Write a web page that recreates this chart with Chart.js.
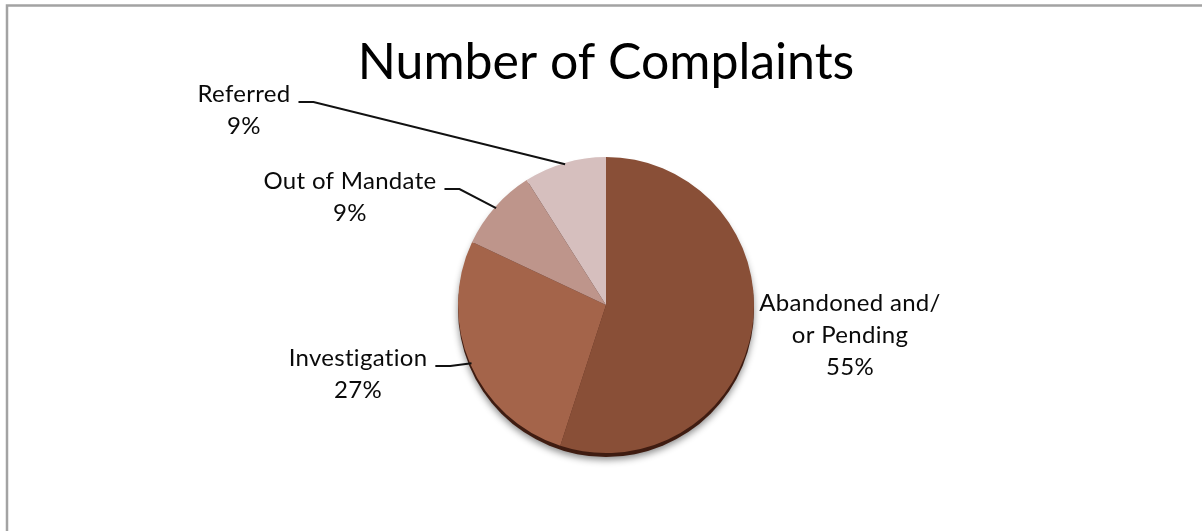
<!DOCTYPE html>
<html>
<head>
<meta charset="utf-8">
<script src="https://cdn.jsdelivr.net/npm/chart.js@4.4.0/dist/chart.umd.min.js"></script>
<style>
  html, body { margin: 0; padding: 0; background: #fff; overflow: hidden; }
  #wrap { width: 1202px; height: 531px; }
</style>
</head>
<body>
<div id="wrap"><canvas id="complaintsChart" width="1202" height="531"></canvas></div>
<script>
// chart data
var categories = [['Abandoned and/', 'or Pending'], ['Investigation'], ['Out of Mandate'], ['Referred']];
var complaints = [55, 27, 9, 9];
var sliceColors = ['rgb(137, 79, 55)', 'rgb(164, 100, 74)', 'rgb(190, 149, 139)', 'rgb(214, 191, 190)'];

// where each label sits, relative to the pie centre (first line centre)
var labelSpots = [
    { dx: 244, dy: -2, leader: false },
    { dx: -248, dy: 53, leader: true },
    { dx: -256, dy: -124, leader: true },
    { dx: -362, dy: -211, leader: true }
];

var frame = {
    id: 'frame',
    beforeDraw: function (chart) {
        var ctx = chart.ctx;
        ctx.save();
        ctx.strokeStyle = '#a3a3a3';
        ctx.lineWidth = 2.5;
        ctx.strokeRect(7, 5.5, 1400, 800);
        ctx.restore();
    }
};

// dark rim + soft shadow under the pie
var pieShadow = {
    id: 'pieShadow',
    beforeDatasetsDraw: function (chart) {
        var arc = chart.getDatasetMeta(0).data[0];
        if (!arc) return;
        var ctx = chart.ctx;
        ctx.save();
        ctx.shadowColor = 'rgba(0, 0, 0, 0.45)';
        ctx.shadowBlur = 7;
        ctx.shadowOffsetY = 3;
        ctx.fillStyle = '#3f1c11';
        ctx.beginPath();
        ctx.arc(arc.x, arc.y + 4, arc.outerRadius, 0, Math.PI * 2);
        ctx.fill();
        ctx.restore();
    }
};

var sliceLabels = {
    id: 'sliceLabels',
    afterDatasetsDraw: function (chart) {
        var ctx = chart.ctx;
        var arcs = chart.getDatasetMeta(0).data;
        var total = complaints.reduce(function (a, b) { return a + b; }, 0);
        ctx.save();
        ctx.font = '24px Lato';
        ctx.letterSpacing = '0.3px'; // also stops the "ti" ligature
        ctx.fillStyle = '#0a0a0a';
        ctx.textAlign = 'center';
        ctx.textBaseline = 'middle';
        arcs.forEach(function (arc, i) {
            var spot = labelSpots[i];
            var lines = categories[i].concat([Math.round(complaints[i] / total * 100) + '%']);
            var tx = arc.x + spot.dx;
            var ty = arc.y + spot.dy;
            lines.forEach(function (line, j) {
                ctx.fillText(line, tx, ty + j * 32);
            });
            if (spot.leader) {
                var w = ctx.measureText(lines[0]).width;
                var sx = tx + w / 2 + 8;
                var sy = ty + 8;
                var mid = (arc.startAngle + arc.endAngle) / 2;
                var r = arc.outerRadius * 0.99;
                ctx.strokeStyle = '#111';
                ctx.lineWidth = 2;
                ctx.beginPath();
                ctx.moveTo(sx, sy);
                ctx.lineTo(sx + 15, sy);
                ctx.lineTo(arc.x + Math.cos(mid) * r, arc.y + Math.sin(mid) * r);
                ctx.stroke();
            }
        });
        ctx.restore();
    }
};

var ctx = document.getElementById('complaintsChart').getContext('2d');
var chart = new Chart(ctx, {
    type: 'pie',
    data: {
        labels: categories,
        datasets: [{
            data: complaints,
            backgroundColor: sliceColors,
            borderWidth: 0,
            hoverOffset: 0
        }]
    },
    options: {
        responsive: false,
        animation: false,
        devicePixelRatio: 1,
        events: [],
        layout: {
            padding: { left: 300, right: 290, top: 0, bottom: 78 }
        },
        plugins: {
            legend: { display: false },
            tooltip: { enabled: false },
            title: {
                display: true,
                text: 'Number of Complaints',
                color: '#000',
                font: { family: 'Lato', size: 50, weight: 'normal', lineHeight: 1.2 },
                padding: { top: 33, bottom: 64 }
            }
        }
    },
    plugins: [frame, pieShadow, sliceLabels]
});
</script>
</body>
</html>
